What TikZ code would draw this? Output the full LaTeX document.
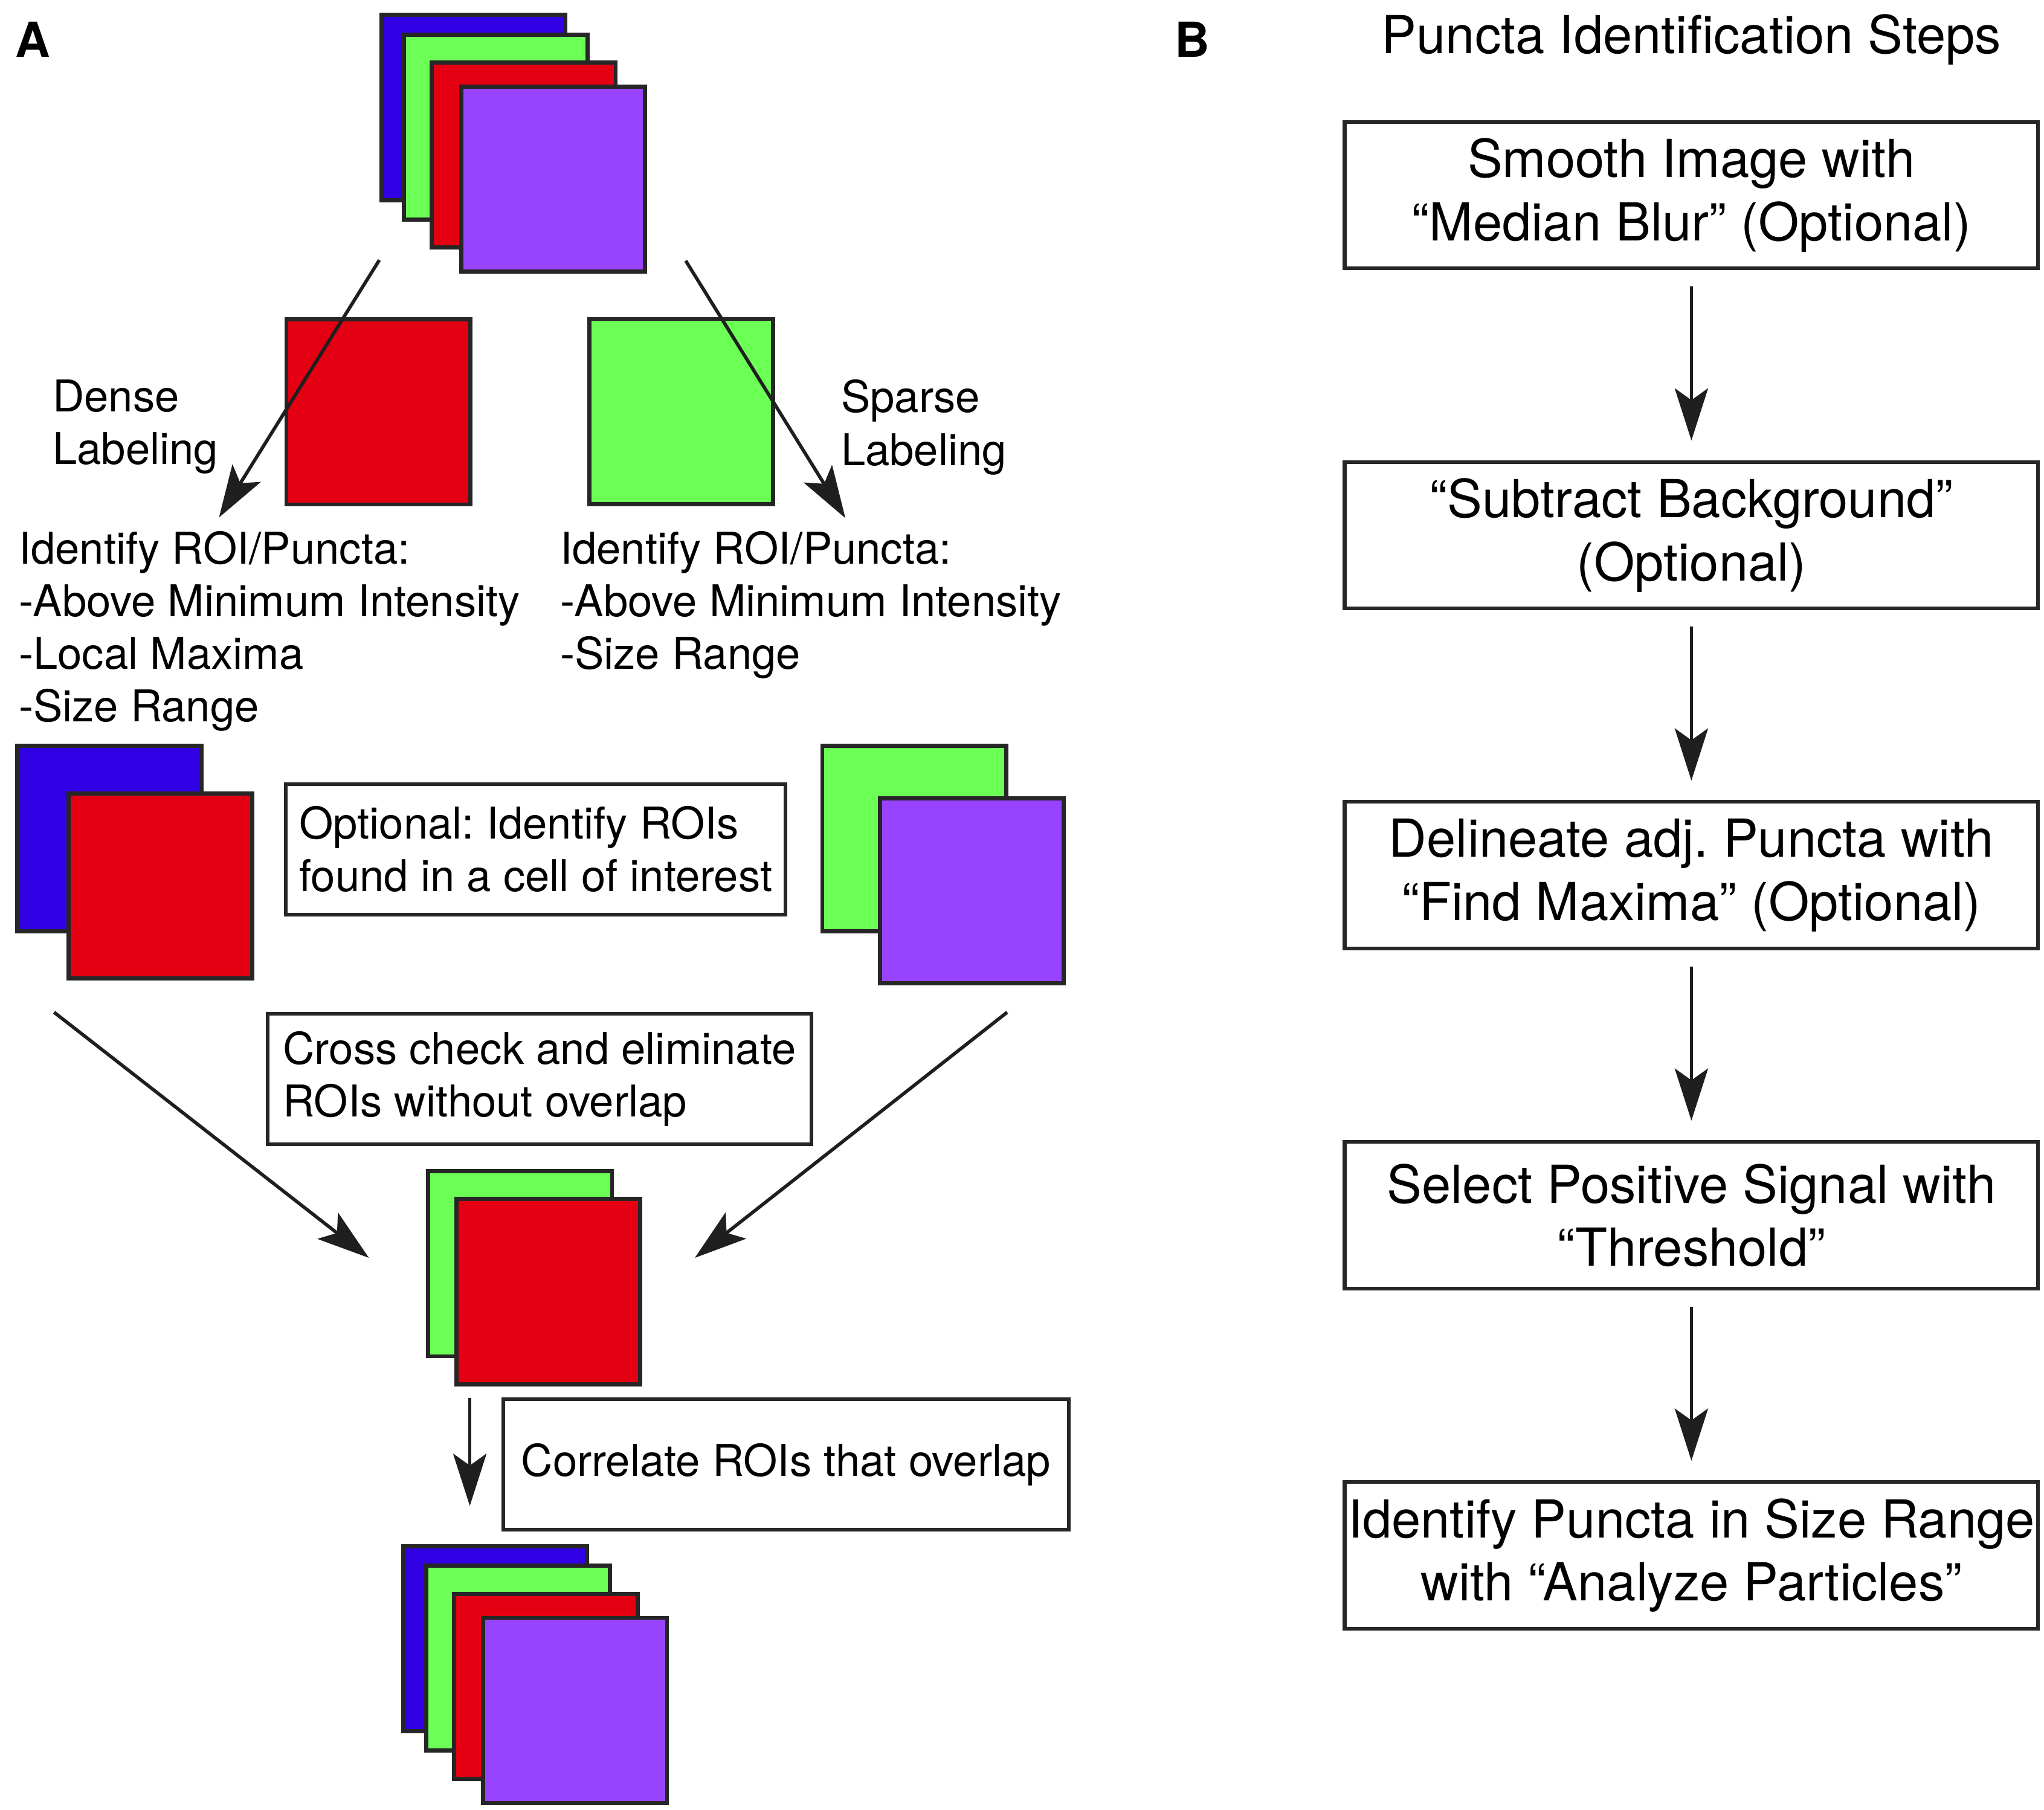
\documentclass[tikz,border=0pt]{standalone}
\usepackage{fontspec}
\setmainfont{TeX Gyre Heros}
\usetikzlibrary{arrows.meta,positioning}
\frenchspacing

\definecolor{chBlue}{RGB}{50,0,228}
\definecolor{chGreen}{RGB}{108,255,86}
\definecolor{chRed}{RGB}{228,0,18}
\definecolor{chPurple}{RGB}{152,68,255}
\definecolor{rim}{RGB}{38,38,38}

\begin{document}
\begin{tikzpicture}[
    x=0.5pt, y=-0.5pt,
    txtA/.style={font=\fontsize{16.8pt}{20.2pt}\selectfont},
    txtB/.style={font=\fontsize{20.1pt}{24.3pt}\selectfont},
    chan/.style={draw=rim, line width=1.6pt, minimum width=70.5pt, minimum height=71pt, inner sep=0pt},
    blueCh/.style={chan, fill=chBlue},
    greenCh/.style={chan, fill=chGreen},
    redCh/.style={chan, fill=chRed},
    purpleCh/.style={chan, fill=chPurple},
    lbl/.style={txtA, align=left, anchor=north west, inner sep=0pt},          % free text, top-left placed
    noteA/.style={txtA, draw=black!85, line width=1.4pt, align=left, inner sep=0pt, minimum height=50.1pt},
    stepB/.style={txtB, draw=black!85, line width=1.4pt, align=center, inner sep=0pt,
                  minimum width=266pt, minimum height=56.25pt},
    arr/.style={draw=black!88, line width=1.3pt, -{Stealth[length=20pt, width=12.75pt, inset=4.5pt]}},
    panel/.style={font=\fontsize{18.5pt}{22pt}\selectfont\bfseries, anchor=base west, inner sep=0pt}
  ]

\useasboundingbox (0,0) rectangle (1568,1388.6);

% Panel A: channel stack split into dense / sparse branches, then merged again.

% --- Panel labels ---
    \node[panel] (lblA) at (11.5,44) {A};
    \node[panel] (lblB) at (901,44) {B};

% --- Input stack (four channels) ---
    \node[blueCh]   (in1) at (363.3,82.5)  {};
    \node[greenCh]  (in2) at (380.3,97.5)  {};
    \node[redCh]    (in3) at (401.8,118.8) {};
    \node[purpleCh] (in4) at (424.2,137.3) {};

% --- Single channels for each branch ---
    \node[redCh]   (dense)  at (290.2,316)   {};
    \node[greenCh] (sparse) at (522.5,315.7) {};

    \node[lbl] (denseLbl)  at (40,291)    {Dense\\Labeling};
    \node[lbl] (sparseLbl) at (644.8,291) {Sparse\\Labeling};

    \node[lbl] (denseSteps)  at (14,407)    {Identify ROI/Puncta:\\-Above Minimum Intensity\\-Local Maxima\\-Size Range};
    \node[lbl] (sparseSteps) at (429.3,407) {Identify ROI/Puncta:\\-Above Minimum Intensity\\-Size Range};

% --- Branch outputs (ROIs on two channels) ---
    \node[blueCh]   (dBlue)   at (83.9,643.3)  {};
    \node[redCh]    (dRed)    at (123.2,679.8) {};
    \node[greenCh]  (sGreen)  at (701.3,643.3) {};
    \node[purpleCh] (sPurple) at (745.5,683.5) {};

    \node[noteA, minimum width=191.6pt] (cellNote)  at (411,651.5)   {Optional: Identify ROIs\\found in a cell of interest};
    \node[noteA, minimum width=208.45pt] (crossNote) at (413.9,827.8) {Cross check and eliminate\\ROIs without overlap};

% --- Merged pair ---
    \node[greenCh] (mGreen) at (399,969.5)   {};
    \node[redCh]   (mRed)   at (420.7,990.9) {};

    \node[noteA, minimum width=217pt] (corrNote) at (602.9,1123.5) {Correlate ROIs that overlap};

% --- Output stack ---
    \node[blueCh]   (out1) at (379.8,1257.1) {};
    \node[greenCh]  (out2) at (397.3,1272.1) {};
    \node[redCh]    (out3) at (418.8,1293.7) {};
    \node[purpleCh] (out4) at (441.2,1312.2) {};

% --- Arrow ends ---
    \coordinate (denseFrom)  at (291,199.5);
    \coordinate (denseTo)    at (168,397);
    \coordinate (sparseFrom) at (526,200);
    \coordinate (sparseTo)   at (648.5,397.5);
    \coordinate (mergeFromL) at (41.5,776.6);
    \coordinate (mergeToL)   at (283,965);
    \coordinate (mergeFromR) at (772.6,776.6);
    \coordinate (mergeToR)   at (533,965);
    \coordinate (corrFrom)   at (360.4,1072.6);
    \coordinate (corrTo)     at (360.4,1155.3);

    \draw[arr] (denseFrom) -- (denseTo);
    \draw[arr] (sparseFrom) -- (sparseTo);
    \draw[arr] (mergeFromL) -- (mergeToL);
    \draw[arr] (mergeFromR) -- (mergeToR);
    \draw[arr] (corrFrom) -- (corrTo);

% --- Panel B: step list ---
    \node[txtB, anchor=base] (titleB) at (1297.5,41) {Puncta Identification Steps};

    \node[stepB] (s1) at (1297.5,149.7) {Smooth Image with\\“Median Blur” (Optional)};
    \node[stepB, below=72.8pt of s1] (s2) {“Subtract Background”\\(Optional)};
    \node[stepB, below=72.8pt of s2] (s3) {Delineate adj. Puncta with\\“Find Maxima” (Optional)};
    \node[stepB, below=72.8pt of s3] (s4) {Select Positive Signal with\\“Threshold”};
    \node[stepB, below=72.8pt of s4] (s5) {Identify Puncta in Size Range\\with “Analyze Particles”};

    \draw[arr, shorten <=6.2pt, shorten >=7.5pt] (s1.south) -- (s2.north);
    \draw[arr, shorten <=6.2pt, shorten >=7.5pt] (s2.south) -- (s3.north);
    \draw[arr, shorten <=6.2pt, shorten >=7.5pt] (s3.south) -- (s4.north);
    \draw[arr, shorten <=6.2pt, shorten >=7.5pt] (s4.south) -- (s5.north);

\end{tikzpicture}
\end{document}
